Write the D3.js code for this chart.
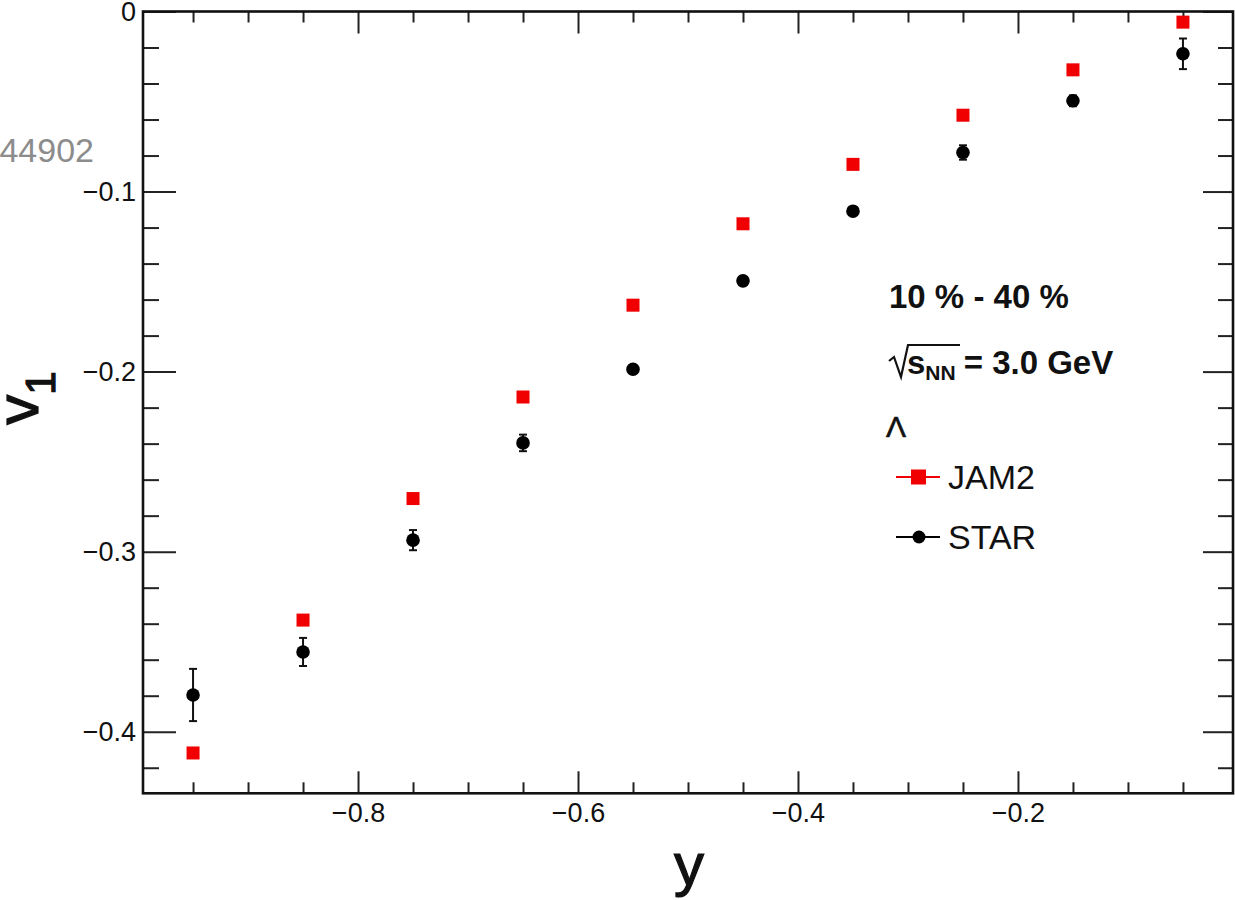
<!DOCTYPE html>
<html>
<head>
<meta charset="utf-8">
<script src="https://cdn.jsdelivr.net/npm/d3@7"></script>
<style>
  body { margin: 0; background: #fff; }
  svg { display: block; }
  text { font-family: "Liberation Sans", Helvetica, Arial, sans-serif; }
</style>
</head>
<body>
<svg id="chart" width="1235" height="900"></svg>
<script>
// rapidity bins (centres)
var rapidity = [-0.95, -0.85, -0.75, -0.65, -0.55, -0.45, -0.35, -0.25, -0.15, -0.05];
// JAM2 model v1
var jam2 = [-0.4118, -0.3380, -0.2705, -0.2141, -0.1631, -0.1179, -0.0849, -0.0576, -0.0324, -0.0059];
// STAR data v1 and stat. errors
var star = [-0.3796, -0.3557, -0.2936, -0.2396, -0.1987, -0.1496, -0.1109, -0.0783, -0.0496, -0.0235];
var starErr = [0.0145, 0.0078, 0.0056, 0.0046, 0.0020, 0.0020, 0.0020, 0.0040, 0.0030, 0.0085];

var xMajor = [-0.8, -0.6, -0.4, -0.2];
var yMajor = [0, -0.1, -0.2, -0.3, -0.4];

(function() {
  var svg = d3.select("#chart");

  // plot frame in pixels (window.top is reserved, so no bare "top")
  var m = { left: 143, right: 1233, top: 11.5, bottom: 793.3 };

  var x = d3.scaleLinear().domain([-0.9955, -0.0045]).range([m.left, m.right]);
  var y = d3.scaleLinear().domain([-0.4342, 0]).range([m.bottom, m.top]);

  var xMinor = d3.range(-0.95, 0, 0.05).map(function(v) { return +v.toFixed(2); })
    .filter(function(v) { return xMajor.indexOf(v) < 0; });
  var yMinor = d3.range(0, -0.44, -0.02).map(function(v) { return +v.toFixed(2); })
    .filter(function(v) { return yMajor.indexOf(v) < 0; });

  var fmt = function(d) { return d === 0 ? "0" : d3.format(".1f")(d).replace("-", "\u2212"); };

  // ticks (inward, on all four sides)
  function tickGroup(axis, transform) {
    var g = svg.append("g").attr("transform", transform).call(axis);
    g.select(".domain").remove();
    g.selectAll("line").attr("stroke", "#222").attr("stroke-width", 2);
    return g;
  }

  tickGroup(d3.axisBottom(x).tickValues(xMinor).tickSize(-11).tickFormat(""), "translate(0," + m.bottom + ")");
  tickGroup(d3.axisTop(x).tickValues(xMinor).tickSize(-11).tickFormat(""), "translate(0," + m.top + ")");
  tickGroup(d3.axisTop(x).tickValues(xMajor).tickSize(-22).tickFormat(""), "translate(0," + m.top + ")");
  var gx = tickGroup(d3.axisBottom(x).tickValues(xMajor).tickSize(-22).tickPadding(10).tickFormat(fmt),
    "translate(0," + m.bottom + ")");
  gx.selectAll("text").attr("font-size", 27).attr("fill", "#111")
    .attr("font-family", "'Liberation Sans', Helvetica, Arial, sans-serif");

  tickGroup(d3.axisLeft(y).tickValues(yMinor).tickSize(-16).tickFormat(""), "translate(" + m.left + ",0)");
  tickGroup(d3.axisRight(y).tickValues(yMinor).tickSize(-15).tickFormat(""), "translate(" + m.right + ",0)");
  tickGroup(d3.axisRight(y).tickValues(yMajor).tickSize(-30).tickFormat(""), "translate(" + m.right + ",0)");
  var gy = tickGroup(d3.axisLeft(y).tickValues(yMajor).tickSize(-33).tickPadding(7).tickFormat(fmt),
    "translate(" + m.left + ",0)");
  gy.selectAll("text").attr("font-size", 27).attr("fill", "#111")
    .attr("font-family", "'Liberation Sans', Helvetica, Arial, sans-serif");

  // frame
  svg.append("rect")
    .attr("x", m.left).attr("y", m.top)
    .attr("width", m.right - m.left).attr("height", m.bottom - m.top)
    .attr("fill", "none").attr("stroke", "#111").attr("stroke-width", 2.6);

  // axis titles
  svg.append("text")
    .attr("x", 689).attr("y", 885)
    .attr("text-anchor", "middle")
    .attr("font-size", 60).attr("fill", "#111")
    .attr("stroke", "#111").attr("stroke-width", 1.2)
    .text("y");

  var vt = svg.append("text")
    .attr("transform", "translate(38,398) rotate(-90)")
    .attr("text-anchor", "middle")
    .attr("font-size", 60).attr("fill", "#111")
    .attr("stroke", "#111").attr("stroke-width", 1.2);
  vt.append("tspan").text("v");
  vt.append("tspan").attr("font-size", 42).attr("dy", 17).text("1");

  // stray grey reference text at the left edge
  svg.append("text")
    .attr("x", 94).attr("y", 162)
    .attr("text-anchor", "end")
    .attr("font-size", 34).attr("fill", "#8c8c8c")
    .text("044902");

  var pts = rapidity.map(function(r, i) {
    return { r: r, jam: jam2[i], star: star[i], err: starErr[i] };
  });

  // STAR error bars
  var eb = svg.append("g").attr("stroke", "#111").attr("stroke-width", 2);
  pts.forEach(function(d) {
    var xc = x(d.r), y0 = y(d.star - d.err), y1 = y(d.star + d.err);
    eb.append("line").attr("x1", xc).attr("x2", xc).attr("y1", y0).attr("y2", y1);
    eb.append("line").attr("x1", xc - 4).attr("x2", xc + 4).attr("y1", y0).attr("y2", y0);
    eb.append("line").attr("x1", xc - 4).attr("x2", xc + 4).attr("y1", y1).attr("y2", y1);
  });

  // JAM2 squares
  svg.append("g").selectAll("rect")
    .data(pts).enter().append("rect")
    .attr("x", function(d) { return x(d.r) - 6.5; })
    .attr("y", function(d) { return y(d.jam) - 6.5; })
    .attr("width", 13).attr("height", 13)
    .attr("fill", "#f00000");

  // STAR circles
  svg.append("g").selectAll("circle")
    .data(pts).enter().append("circle")
    .attr("cx", function(d) { return x(d.r); })
    .attr("cy", function(d) { return y(d.star); })
    .attr("r", 6.8)
    .attr("fill", "#000");

  // labels / legend
  svg.append("text")
    .attr("x", 889).attr("y", 308)
    .attr("font-size", 33).attr("font-weight", "bold").attr("fill", "#111")
    .text("10 % - 40 %");

  svg.append("path")
    .attr("d", "M889,361 L894,357 L901,377 L908,345 L960,345")
    .attr("fill", "none").attr("stroke", "#111").attr("stroke-width", 2.2);
  var sq = svg.append("text")
    .attr("x", 907).attr("y", 374)
    .attr("font-size", 33).attr("font-weight", "bold").attr("fill", "#111");
  sq.append("tspan").text("s");
  sq.append("tspan").attr("font-size", 21).attr("dy", 6).text("NN");
  sq.append("tspan").attr("dy", -6).attr("dx", 8).text("= 3.0 GeV");

  svg.append("text")
    .attr("x", 886).attr("y", 437)
    .attr("font-size", 30).attr("fill", "#111")
    .attr("stroke", "#111").attr("stroke-width", 0.6)
    .attr("font-family", "'Liberation Serif', 'Times New Roman', serif")
    .text("\u039B");

  var legendRows = [
    { name: "JAM2", color: "#f00000", shape: "square", ty: 477 },
    { name: "STAR", color: "#000", shape: "circle", ty: 537 }
  ];
  var lg = svg.append("g");
  legendRows.forEach(function(r) {
    lg.append("line").attr("x1", 896).attr("x2", 940).attr("y1", r.ty).attr("y2", r.ty)
      .attr("stroke", r.color).attr("stroke-width", 2);
    if (r.shape === "square") {
      lg.append("rect").attr("x", 911).attr("y", r.ty - 7.5).attr("width", 15).attr("height", 15)
        .attr("fill", r.color);
    } else {
      lg.append("circle").attr("cx", 919).attr("cy", r.ty).attr("r", 6.5).attr("fill", r.color);
    }
    lg.append("text").attr("x", 948).attr("y", r.ty + 12)
      .attr("font-size", 34).attr("fill", "#111")
      .text(r.name);
  });
})();
</script>
</body>
</html>
